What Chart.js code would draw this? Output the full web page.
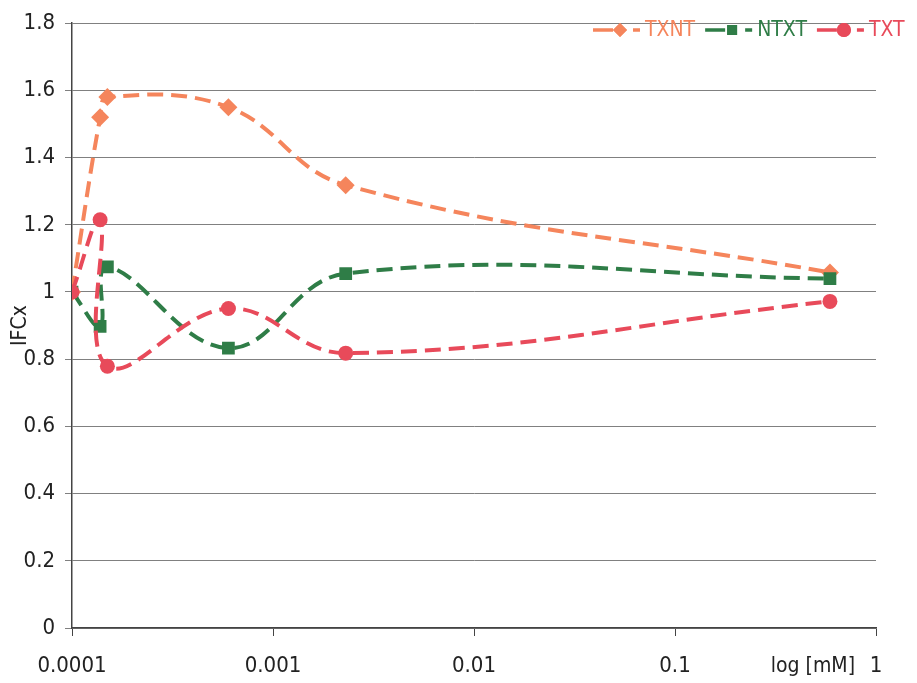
<!DOCTYPE html>
<html>
<head>
<meta charset="utf-8">
<script src="https://cdn.jsdelivr.net/npm/chart.js@4"></script>
<style>
  html, body { margin: 0; padding: 0; background: #fff; }
  #wrap { width: 917px; height: 683px; position: relative; }
</style>
</head>
<body>
<div id="wrap"><canvas id="chart"></canvas></div>
<script>
// concentrations (mM), shared by all three series
const conc = [0.0001, 0.000138, 0.00015, 0.0006, 0.0023, 0.59];

const txnt = [1.0, 1.52, 1.58, 1.55, 1.318, 1.058];
const ntxt = [1.0, 0.898, 1.075, 0.833, 1.055, 1.04];
const txt  = [1.0, 1.215, 0.779, 0.951, 0.818, 0.972];

const xTicks = [0.0001, 0.001, 0.01, 0.1, 1];
const yTicks = [0, 0.2, 0.4, 0.6, 0.8, 1, 1.2, 1.4, 1.6, 1.8];

const FONT = "'Liberation Sans Narrow', 'Arial Narrow', 'DejaVu Sans Condensed', sans-serif";

const toPoints = (ys) => conc.map((x, i) => ({x: x, y: ys[i]}));

function series(label, values, color, pointStyle, radius, order) {
  return {
    label: label,
    data: toPoints(values),
    borderColor: color,
    backgroundColor: color,
    borderWidth: 4,
    borderDash: [16, 8],
    tension: 0.4,
    pointStyle: pointStyle,
    pointRadius: radius,
    pointBorderWidth: 0,
    order: order
  };
}

const datasets = [
  series("TXNT", txnt, "#f5855c", "rectRot", 9, 3),
  series("NTXT", ntxt, "#2f7d47", "rect", 9, 2),
  series("TXT", txt, "#e84a5a", "circle", 7.5, 1)
];

// legend in the top right: dashed line, marker, label in series colour
const legendPlugin = {
  id: "excelLegend",
  afterDraw(chart) {
    const ctx = chart.ctx;
    ctx.save();
    ctx.font = "21px " + FONT;
    ctx.textBaseline = "middle";
    let s = 593;
    const y = 30;
    datasets.forEach((ds) => {
      ctx.strokeStyle = ds.borderColor;
      ctx.fillStyle = ds.borderColor;
      ctx.lineWidth = 3.5;
      ctx.beginPath();
      ctx.moveTo(s, y); ctx.lineTo(s + 20, y);
      ctx.moveTo(s + 40, y); ctx.lineTo(s + 47, y);
      ctx.stroke();
      Chart.helpers.drawPoint(ctx, {pointStyle: ds.pointStyle, radius: 7, borderWidth: 0, rotation: 0}, s + 27, y);
      ctx.fill();
      ctx.fillText(ds.label, s + 52, y + 1);
      s += 52 + ctx.measureText(ds.label).width + 10;
    });
    // x-axis caption sits on the tick label row
    ctx.fillStyle = "#222";
    ctx.font = "21px " + FONT;
    ctx.textAlign = "right";
    ctx.fillText("log [mM]", 855, 667);
    ctx.restore();
  }
};

new Chart(document.getElementById("chart"), {
  type: "line",
  data: {datasets: datasets},
  options: {
    responsive: true,
    maintainAspectRatio: false,
    animation: false,
    layout: {padding: {top: 20, right: 41, left: 0, bottom: 0}},
    plugins: {
      legend: {display: false},
      tooltip: {enabled: false}
    },
    scales: {
      x: {
        type: "logarithmic",
        min: 0.0001,
        max: 1,
        afterBuildTicks: (scale) => {
          scale.ticks = xTicks.map((v) => ({value: v}));
        },
        afterFit: (scale) => { scale.height = 55; },
        ticks: {
          autoSkip: false,
          maxRotation: 0,
          padding: 17,
          color: "#222",
          font: {family: FONT, size: 22},
          callback: (v) => String(v)
        },
        grid: {
          drawOnChartArea: false,
          drawTicks: true,
          tickLength: 8,
          color: "#444"
        },
        border: {color: "#444", width: 1.5}
      },
      y: {
        min: 0,
        max: 1.8,
        afterBuildTicks: (scale) => {
          scale.ticks = yTicks.map((v) => ({value: v}));
        },
        afterFit: (scale) => { scale.width = 72; },
        ticks: {
          padding: 10,
          color: "#222",
          font: {family: FONT, size: 22},
          callback: (v) => String(+v.toFixed(1))
        },
        title: {
          display: true,
          text: "IFCx",
          color: "#222",
          font: {family: FONT, size: 21},
          padding: {top: 8, bottom: 0}
        },
        grid: {
          color: "#808080",
          lineWidth: 1,
          tickLength: 7
        },
        border: {color: "#444", width: 1.5}
      }
    }
  },
  plugins: [legendPlugin]
});
</script>
</body>
</html>
